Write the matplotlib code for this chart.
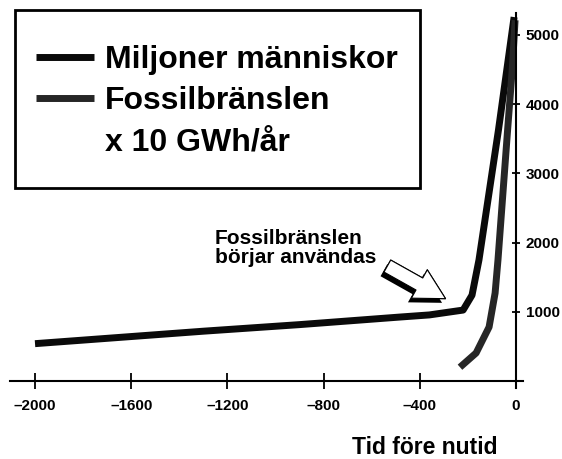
import matplotlib.pyplot as plt
from matplotlib.lines import Line2D
from matplotlib.patches import Rectangle
import matplotlib.patheffects as pe

plt.rcParams['font.family'] = ['Liberation Sans', 'DejaVu Sans']
plt.rcParams['font.weight'] = 'bold'

# Befolkning (miljoner människor)
pop_years = [-2000, -1300, -900, -480, -360, -220, -183, -154, -73, -8]
pop_values = [540, 720, 815, 925, 955, 1025, 1240, 1750, 3625, 5255]

# Fossilbränslen (x 10 GWh/år)
fossil_years = [-233, -166, -112, -87, -75, -35, -15, -4]
fossil_values = [200, 405, 780, 1270, 1750, 3625, 4535, 5210]

x_ticks = [-2000, -1600, -1200, -800, -400, 0]
x_tick_labels = ['–2000', '–1600', '–1200', '–800', '–400', '0']
y_ticks = [1000, 2000, 3000, 4000, 5000]

fig = plt.figure(figsize=(5.62, 4.59), dpi=100)
ax = fig.add_axes([0.0178, 0.1547, 0.9128, 0.817])

pop_line, = ax.plot(pop_years, pop_values, color='#0a0a0a', lw=5,
                    solid_capstyle='butt', solid_joinstyle='round')
fossil_line, = ax.plot(fossil_years, fossil_values, color='#262626', lw=5,
                       solid_capstyle='butt', solid_joinstyle='round')

ax.set_xlim(-2104, 29)
ax.set_ylim(-100, 5314)

# axlar: x-axeln vid y=0, y-axeln vid x=0 (höger)
ax.spines['left'].set_visible(False)
ax.spines['top'].set_visible(False)
ax.spines['bottom'].set_position(('data', 0))
ax.spines['right'].set_position(('data', 0))
for s in ('bottom', 'right'):
    ax.spines[s].set_linewidth(1.5)

ax.yaxis.set_ticks_position('right')
ax.set_xticks(x_ticks)
ax.set_xticklabels(x_tick_labels)
ax.set_yticks(y_ticks)
ax.tick_params(axis='x', direction='inout', length=12, width=1.3, pad=7, labelsize=11)
ax.tick_params(axis='y', direction='inout', length=6, width=1.3, pad=4, labelsize=11)
for lab in ax.get_xticklabels() + ax.get_yticklabels():
    lab.set_fontweight('bold')

fig.text(0.885, 0.011, 'Tid före nutid', ha='right', va='baseline',
         fontsize=16.5, fontweight='bold')

# pil och text
ax.text(-1252, 2190, 'Fossilbränslen\nbörjar användas', ha='left', va='top',
        fontsize=15, fontweight='bold', linespacing=1.0)
ax.annotate('', xy=(-283, 1170), xytext=(-545, 1680),
            arrowprops=dict(arrowstyle='simple,head_width=1.3,head_length=1.2,tail_width=0.55',
                            mutation_scale=18, fc='white', ec='black', lw=0.8,
                            path_effects=[pe.withSimplePatchShadow(offset=(-2.5, -3),
                                                                   shadow_rgbFace='black',
                                                                   alpha=1), pe.Normal()]))

# förklaring
fig.patches.append(Rectangle((0.0267, 0.5904), 0.7206, 0.3878, transform=fig.transFigure,
                             fill=False, ec='black', lw=2))
blank = Line2D([], [], color='none')
fig.legend([pop_line, fossil_line, blank],
           ['Miljoner människor', 'Fossilbränslen', 'x 10 GWh/år'],
           loc='upper left', bbox_to_anchor=(36 / 562, 1 - 45 / 459),
           frameon=False, borderpad=0, borderaxespad=0, handlelength=1.8,
           handletextpad=0.35, labelspacing=0.35,
           prop={'size': 23, 'weight': 'bold'})

fig.savefig('out.png', dpi=100)
